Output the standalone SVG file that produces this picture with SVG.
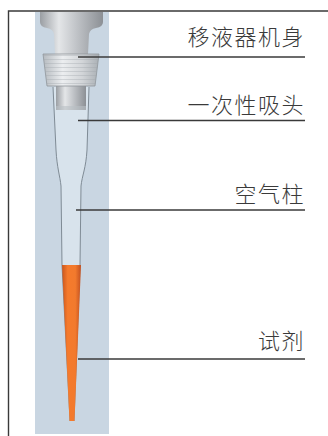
<svg xmlns="http://www.w3.org/2000/svg" width="328" height="436" viewBox="0 0 328 436">
  <defs>
    <linearGradient id="metal" x1="0" y1="0" x2="1" y2="0">
      <stop offset="0" stop-color="#9a9ea3"/>
      <stop offset="0.3" stop-color="#e4e6e8"/>
      <stop offset="0.55" stop-color="#c4c7cb"/>
      <stop offset="1" stop-color="#8c9095"/>
    </linearGradient>
    <linearGradient id="collar" x1="0" y1="0" x2="1" y2="0">
      <stop offset="0" stop-color="#b6bbc0"/>
      <stop offset="0.35" stop-color="#eceef0"/>
      <stop offset="0.7" stop-color="#d2d5d8"/>
      <stop offset="1" stop-color="#aab0b5"/>
    </linearGradient>
    <linearGradient id="liquid" x1="0" y1="0" x2="1" y2="0">
      <stop offset="0" stop-color="#c9551c"/>
      <stop offset="0.3" stop-color="#f57a2c"/>
      <stop offset="0.7" stop-color="#f27a2d"/>
      <stop offset="1" stop-color="#c25020"/>
    </linearGradient>
    <pattern id="thread" width="4" height="4" patternUnits="userSpaceOnUse">
      <line x1="0" y1="3.5" x2="4" y2="3.5" stroke="#9ea3a8" stroke-width="0.7" opacity="0.5"/>
    </pattern>
  </defs>
  <style>
    .frame { stroke: #3a3a3a; stroke-width: 1.4; fill: none; }
    .leader { stroke: #3a3a3a; stroke-width: 1.4; }
    .label { font-family: "Noto Sans CJK SC", "Noto Sans", sans-serif; font-size: 22px; font-weight: 300; fill: #3a3a3a; letter-spacing: 1.5px; text-anchor: end; }
    .wall { stroke: #7f8b95; stroke-width: 1; fill: none; }
  </style>

  <rect width="328" height="436" fill="#ffffff"/>

  <!-- frame -->
  <path class="frame" d="M328,11 H8.5 V436"/>

  <!-- pipette illustration -->
  <g id="pipette">
    <rect x="35" y="12" width="74" height="422" fill="#c9d6e2"/>
    <!-- tip interior -->
    <path d="M53,87 L56,150 C57,168 60,176 61,186 L62,265 L70,421 L74,421 L80,265 L81,186 C82,176 86,168 87,150 L89,87 Z" fill="#d8e3ec"/>
    <!-- body head -->
    <path d="M40,12 H103 V22 Q103,27 96,28 Q90,29 89,34 L88,54 H55 L54,34 Q53,29 47,28 Q40,27 40,22 Z" fill="url(#metal)"/>
    <!-- shaft below collar -->
    <rect x="56" y="85" width="30" height="25" fill="url(#metal)"/>
    <rect x="56" y="106" width="30" height="4" fill="#b9bfc5" opacity="0.6"/>
    <!-- threaded collar -->
    <path d="M43,54 H99 L95,86 H47 Z" fill="url(#collar)" stroke="#8f959b" stroke-width="0.8"/>
    <path d="M43,54 H99 L95,86 H47 Z" fill="url(#thread)"/>
    <!-- tip walls -->
    <path class="wall" d="M53,87 L56,150 C57,168 60,176 61,186 L62,265 L70,421"/>
    <path class="wall" d="M89,87 L87,150 C86,168 82,176 81,186 L80,265 L74,421"/>
    <!-- liquid -->
    <path d="M62,265 H81 L74.5,421 H69.5 Z" fill="url(#liquid)"/>
  </g>

  <!-- leader lines -->
  <g id="connectors">
    <line class="leader" x1="78" y1="57" x2="305" y2="57"/>
    <line class="leader" x1="78" y1="120.5" x2="305" y2="120.5"/>
    <line class="leader" x1="76" y1="210" x2="305" y2="210"/>
    <line class="leader" x1="78" y1="359" x2="305" y2="359"/>
  </g>

  <g id="label-body"><text class="label" x="305" y="45">移液器机身</text></g>
  <g id="label-tip"><text class="label" x="305" y="113">一次性吸头</text></g>
  <g id="label-air"><text class="label" x="305" y="202">空气柱</text></g>
  <g id="label-reagent"><text class="label" x="305" y="349">试剂</text></g>
</svg>
